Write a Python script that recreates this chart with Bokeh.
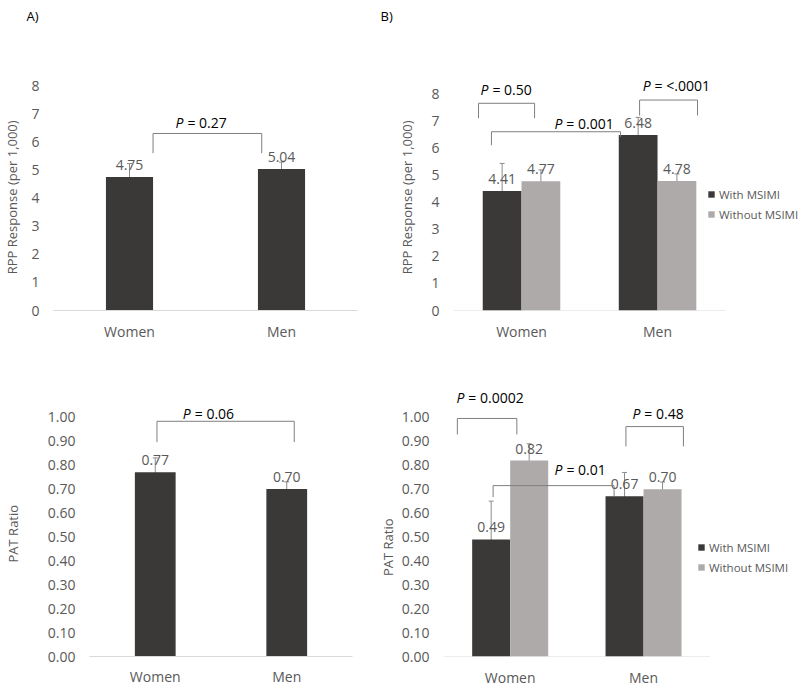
from bokeh.plotting import figure
from bokeh.models import (ColumnDataSource, FactorRange, Range1d, FixedTicker, Whisker, TeeHead,
                          Legend, LegendItem, PrintfTickFormatter, Title)
from bokeh.transform import dodge
from bokeh.layouts import row, column
from bokeh.core.properties import value
from bokeh.embed import file_html
from bokeh.resources import INLINE

# ---------------- data ----------------
categories = ["Women", "Men"]
series = ["With MSIMI", "Without MSIMI"]

rpp_all = [4.75, 5.04]
rpp_all_err = [0.48, 0.24]
pat_all = [0.77, 0.70]
pat_all_err = [0.06, 0.03]

rpp_with = [4.41, 6.48]
rpp_with_err = [1.02, 0.65]
rpp_without = [4.77, 4.78]
rpp_without_err = [0.42, 0.26]

pat_with = [0.49, 0.67]
pat_with_err = [0.16, 0.10]
pat_without = [0.82, 0.70]
pat_without_err = [0.07, 0.03]

rpp_ticks = [0, 1, 2, 3, 4, 5, 6, 7, 8]
pat_ticks = [0.0, 0.1, 0.2, 0.3, 0.4, 0.5, 0.6, 0.7, 0.8, 0.9, 1.0]

# significance annotations: bracket (x_left, x_right, y_top, y_left_end, y_right_end)
# and text anchor (x, y, text after the italic P)
ann_a_top = dict(brackets=[(0.655, 1.37, 6.3, 5.6, 5.6)],
                 texts=[(0.855, 6.69, "= 0.27")])
ann_a_bot = dict(brackets=[(0.513, 1.557, 0.983, 0.896, 0.896)],
                 texts=[(0.77, 1.015, "= 0.06")])
ann_b_top = dict(brackets=[(0.184, 0.596, 7.65, 7.1, 7.1),
                           (0.279, 1.228, 6.6, 6.1, 6.41),
                           (1.368, 1.794, 7.77, 7.2, 7.2)],
                 texts=[(0.257, 8.16, "= 0.50"), (0.80, 6.91, "= 0.001"), (1.449, 8.31, "= <.0001")])
ann_b_bot = dict(brackets=[(0.104, 0.55, 0.996, 0.929, 0.929),
                           (0.372, 1.279, 0.715, 0.667, 0.67),
                           (1.368, 1.799, 0.962, 0.879, 0.879)],
                 texts=[(0.156, 1.082, "= 0.0002"), (0.892, 0.781, "= 0.01"), (1.476, 1.015, "= 0.48")])

# ---------------- style ----------------
FONT = "Open Sans"
DARK = "#3b3838"
LIGHT = "#aeaaaa"
GREY = "#595959"
ERR = "#8c8c8c"
BRK = "#7f7f7f"
AXIS = "#d9d9d9"
NBSP = "\u00a0"


def make_fig(width, height, left, right, top, bottom, x_range, y_end, ticks, fmt, ytitle, tstand, xstand):
    p = figure(width=width, height=height, x_range=x_range,
               y_range=Range1d(0, y_end), output_backend="svg", toolbar_location=None,
               min_border_left=left, min_border_right=right,
               min_border_top=top, min_border_bottom=bottom)
    p.outline_line_color = None
    p.background_fill_color = "white"
    p.border_fill_color = "white"
    p.grid.visible = False
    ya = p.yaxis[0]
    ya.ticker = FixedTicker(ticks=ticks)
    ya.formatter = PrintfTickFormatter(format=fmt)
    ya.axis_line_color = None
    ya.major_tick_line_color = None
    ya.minor_tick_line_color = None
    ya.major_tick_out = 0
    ya.major_tick_in = 0
    ya.minor_tick_out = 0
    ya.major_label_standoff = 14
    ya.major_label_text_font = FONT
    ya.major_label_text_font_size = "14px"
    ya.major_label_text_color = GREY
    ya.axis_label = ytitle
    ya.axis_label_text_font = FONT
    ya.axis_label_text_font_size = "13px"
    ya.axis_label_text_font_style = "normal"
    ya.axis_label_text_color = GREY
    ya.axis_label_standoff = tstand
    xa = p.xaxis[0]
    xa.axis_line_color = AXIS
    xa.major_tick_line_color = None
    xa.minor_tick_line_color = None
    xa.major_tick_out = 0
    xa.major_tick_in = 0
    xa.minor_tick_out = 0
    xa.major_label_standoff = xstand
    xa.major_label_text_font = FONT
    xa.major_label_text_font_size = "14px"
    xa.major_label_text_color = GREY
    return p


def panel_tag(p, text, offset):
    # spacer between frame and tag, then the tag itself (outermost)
    p.add_layout(Title(text=" ", standoff=16, text_font=FONT, text_font_size="13px"), "above")
    p.add_layout(Title(text=text, align="left", offset=offset, standoff=0,
                       text_font=FONT, text_font_size="13px", text_font_style="normal",
                       text_color="black"), "above")


def numeric_categories(p):
    # categorical axis on a numeric range: one unit per category
    centers = [i + 0.5 for i in range(len(categories))]
    xa = p.xaxis[0]
    xa.ticker = FixedTicker(ticks=centers)
    xa.major_label_overrides = {c: name for c, name in zip(centers, categories)}
    xa.axis_line_color = None
    p.segment(x0=[0], x1=[len(categories)], y0=[0], y1=[0], line_color=AXIS, line_width=1)
    return centers


def add_series(p, xvals, vals, errs, color, offset, width):
    src = ColumnDataSource(dict(cat=xvals, val=vals,
                                up=[v + e for v, e in zip(vals, errs)],
                                lo=[v - e for v, e in zip(vals, errs)],
                                lbl=[f"{v:.2f}" for v in vals]))
    if isinstance(p.x_range, FactorRange):
        xs = dodge("cat", offset, range=p.x_range)
    else:
        xs = dodge("cat", offset)
    p.vbar(x=xs, top="val", width=width, source=src, fill_color=color, line_color=None)
    p.add_layout(Whisker(source=src, base=xs, upper="up", lower="lo",
                         line_color=ERR, line_width=1,
                         upper_head=TeeHead(size=5, line_color=ERR, line_width=1),
                         lower_head=TeeHead(size=5, line_color=ERR, line_width=1)))
    p.text(x=xs, y="val", text="lbl", source=src, text_align="center", text_baseline="bottom",
           y_offset=-7, text_font=value(FONT), text_font_size="14px", text_color=GREY)
    leg = p.scatter(x=xs, y="val", source=src, marker="square", size=7,
                    fill_color=color, line_color=None, visible=False)
    return leg


def add_annotations(p, ann):
    p.multi_line(xs=[[b[0], b[0], b[1], b[1]] for b in ann["brackets"]],
                 ys=[[b[3], b[2], b[2], b[4]] for b in ann["brackets"]],
                 line_color=BRK, line_width=1)
    for (x, y, t) in ann["texts"]:
        p.text(x=[x], y=[y], text=["P"], text_align="right", text_baseline="middle",
               text_font=value(FONT), text_font_style="italic", text_font_size="14px",
               text_color="black")
        p.text(x=[x], y=[y], text=[t], text_align="left", text_baseline="middle", x_offset=4,
               text_font=value(FONT), text_font_size="14px", text_color="black")


def add_legend(p, renderers, loc):
    leg = Legend(items=[LegendItem(label=s, renderers=[r]) for s, r in zip(series, renderers)],
                 location=loc, padding=0, margin=0, spacing=4,
                 glyph_width=16, glyph_height=16, label_height=16, label_standoff=0,
                 border_line_color=None, background_fill_alpha=0,
                 label_text_font=FONT, label_text_font_size="11.5px", label_text_color=GREY)
    p.add_layout(leg)


RPP_TITLE = "RPP Response (per 1,000)"
PAT_TITLE = "PAT Ratio"

# ---- A top: RPP overall ----
p1 = make_fig(375, 345, 53, 18, 60, 35,
              FactorRange(factors=categories, range_padding=0, factor_padding=0),
              8.897, rpp_ticks, "%d", RPP_TITLE + NBSP * 7, 7, 11)
add_series(p1, categories, rpp_all, rpp_all_err, DARK, 0.0, 0.31)
add_annotations(p1, ann_a_top)
panel_tag(p1, "A)", -27)

# ---- B top: RPP by MSIMI ----
p2 = make_fig(425, 345, 78, 0, 60, 33, Range1d(0, 2.551),
              9.23, rpp_ticks, "%d", RPP_TITLE + NBSP * 7, 12, 11)
c2 = numeric_categories(p2)
r1 = add_series(p2, c2, rpp_with, rpp_with_err, DARK, -0.1425, 0.285)
r2 = add_series(p2, c2, rpp_without, rpp_without_err, LIGHT, 0.1425, 0.285)
add_annotations(p2, ann_b_top)
add_legend(p2, [r1, r2], (250, 88))
panel_tag(p2, "B)", -73)

# ---- A bottom: PAT overall ----
p3 = make_fig(375, 345, 87, 23, 35, 32,
              FactorRange(factors=categories, range_padding=0, factor_padding=0),
              1.1535, pat_ticks, "%.2f", PAT_TITLE + NBSP * 9, 23, 10)
add_series(p3, categories, pat_all, pat_all_err, DARK, 0.0, 0.31)
add_annotations(p3, ann_a_bot)

# ---- B bottom: PAT by MSIMI ----
p4 = make_fig(425, 345, 65, 0, 35, 34, Range1d(0, 2.677),
              1.1548, pat_ticks, "%.2f", PAT_TITLE + NBSP * 17, 2, 11)
c4 = numeric_categories(p4)
r3 = add_series(p4, c4, pat_with, pat_with_err, DARK, -0.1425, 0.285)
r4 = add_series(p4, c4, pat_without, pat_without_err, LIGHT, 0.1425, 0.285)
add_annotations(p4, ann_b_bot)
add_legend(p4, [r3, r4], (250, 81))

layout = column(row(p1, p2), row(p3, p4))
open("out.html", "w").write(file_html(layout, INLINE))
